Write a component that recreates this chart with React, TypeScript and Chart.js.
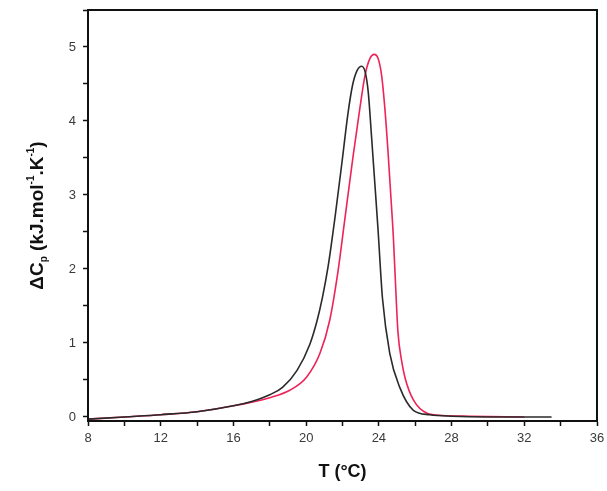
import React, { useEffect, useRef } from "react";
import { Chart, registerables } from "chart.js";

Chart.register(...registerables);

// ---- data ----
const blackT = [8.0, 10.0, 12.0, 14.0, 16.0, 17.0, 18.0, 18.7, 19.5, 20.2, 20.6, 20.9, 21.2, 21.6, 22.0, 22.3, 22.55, 22.8, 23.05, 23.25, 23.42, 23.6, 23.8, 23.95, 24.2, 24.6, 25.15, 25.9, 26.8, 28.0, 30.0, 32.0, 33.5];
const blackV = [-0.03, 0.0, 0.03, 0.07, 0.15, 0.21, 0.3, 0.4, 0.63, 0.98, 1.3, 1.62, 2.02, 2.72, 3.5, 4.1, 4.48, 4.68, 4.74, 4.66, 4.38, 3.78, 3.08, 2.55, 1.6, 0.86, 0.4, 0.09, 0.03, 0.01, 0.0, 0.0, 0.0];

const redT = [8.0, 10.0, 12.0, 14.0, 16.0, 17.0, 18.0, 19.1, 20.03, 20.76, 21.3, 21.76, 22.1, 22.57, 22.96, 23.24, 23.5, 23.75, 23.95, 24.15, 24.32, 24.5, 24.65, 24.8, 24.92, 25.05, 25.25, 25.45, 25.9, 26.65, 27.5, 29.0, 32.0];
const redV = [-0.03, 0.0, 0.03, 0.07, 0.15, 0.2, 0.26, 0.36, 0.54, 0.86, 1.31, 1.98, 2.62, 3.5, 4.18, 4.62, 4.84, 4.9, 4.85, 4.62, 4.2, 3.6, 3.02, 2.42, 1.78, 1.15, 0.76, 0.52, 0.23, 0.05, 0.02, 0.01, 0.0];

const xTickValues = [8, 10, 12, 14, 16, 18, 20, 22, 24, 26, 28, 30, 32, 34, 36];
const xLabelValues = [8, 12, 16, 20, 24, 28, 32, 36];
const yTickValues = [0, 0.5, 1, 1.5, 2, 2.5, 3, 3.5, 4, 4.5, 5, 5.5];
const yLabelValues = [0, 1, 2, 3, 4, 5];

const xTitle = "T (°C)";
const yTitleParts: [string, "n" | "sub" | "sup"][] = [
  ["ΔC", "n"],
  ["p", "sub"],
  [" (kJ.mol", "n"],
  ["-1", "sup"],
  [".K", "n"],
  ["-1", "sup"],
  [")", "n"],
];

const FONT = "'Liberation Sans', Arial, sans-serif";

const framePlugin = {
  id: "frameAndTitles",
  afterDraw(chart: any) {
    const { ctx, chartArea } = chart;
    ctx.save();
    // frame
    ctx.strokeStyle = "#111";
    ctx.lineWidth = 2;
    ctx.strokeRect(chartArea.left, chartArea.top, chartArea.right - chartArea.left, chartArea.bottom - chartArea.top);

    // x title
    ctx.fillStyle = "#111";
    ctx.font = `bold 18px ${FONT}`;
    ctx.textAlign = "center";
    ctx.textBaseline = "middle";
    ctx.fillText(xTitle, (chartArea.left + chartArea.right) / 2, 472);

    // y title (rich text)
    const big = `bold 19px ${FONT}`;
    const small = `bold 10px ${FONT}`;
    let total = 0;
    const widths: number[] = [];
    for (const [t, k] of yTitleParts) {
      ctx.font = k === "n" ? big : small;
      const w = ctx.measureText(t).width;
      widths.push(w);
      total += w;
    }
    ctx.translate(38, (chartArea.top + chartArea.bottom) / 2);
    ctx.rotate(-Math.PI / 2);
    ctx.textAlign = "left";
    ctx.textBaseline = "middle";
    let x = -total / 2;
    yTitleParts.forEach(([t, k], i) => {
      ctx.font = k === "n" ? big : small;
      const dy = k === "sub" ? 6 : k === "sup" ? -7 : 0;
      ctx.fillText(t, x, dy);
      x += widths[i];
    });
    ctx.restore();
  },
};

export default function App() {
  const ref = useRef<HTMLCanvasElement | null>(null);
  useEffect(() => {
    if (!ref.current) return;
    const chart = new Chart(ref.current, {
      type: "line",
      data: {
        datasets: [
          {
            label: "black",
            data: blackT.map((t, i) => ({ x: t, y: blackV[i] })),
            borderColor: "#2a2a2a",
            borderWidth: 1.6,
            pointRadius: 0,
            cubicInterpolationMode: "monotone",
            fill: false,
          },
          {
            label: "red",
            data: redT.map((t, i) => ({ x: t, y: redV[i] })),
            borderColor: "#ee2358",
            borderWidth: 1.6,
            pointRadius: 0,
            cubicInterpolationMode: "monotone",
            fill: false,
          },
        ],
      },
      options: {
        animation: false,
        responsive: true,
        maintainAspectRatio: false,
        layout: { padding: { top: 10, right: 10, left: 0, bottom: 0 } },
        plugins: { legend: { display: false }, tooltip: { enabled: false } },
        scales: {
          x: {
            type: "linear",
            min: 8,
            max: 36,
            afterFit: (s: any) => {
              s.height = 70;
              s.paddingLeft = 0;
              s.paddingRight = 0;
            },
            afterBuildTicks: (s: any) => {
              s.ticks = xTickValues.map((v) => ({ value: v }));
            },
            ticks: {
              autoSkip: false,
              maxRotation: 0,
              padding: 5,
              color: "#3a3a3a",
              font: { family: FONT, size: 13 },
              callback: (v: any) => (xLabelValues.includes(Number(v)) ? String(v) : ""),
            },
            grid: {
              drawOnChartArea: false,
              drawTicks: true,
              tickLength: 5,
              tickColor: "#111",
              tickWidth: 1.5,
            },
            border: { display: true, color: "#111", width: 2 },
          },
          y: {
            type: "linear",
            min: -0.055,
            max: 5.5,
            afterFit: (s: any) => {
              s.width = 88;
              s.paddingTop = 0;
              s.paddingBottom = 0;
            },
            afterBuildTicks: (s: any) => {
              s.ticks = yTickValues.map((v) => ({ value: v }));
            },
            ticks: {
              autoSkip: false,
              padding: 7,
              color: "#3a3a3a",
              font: { family: FONT, size: 13 },
              callback: (v: any) => (yLabelValues.includes(Number(v)) ? String(v) : ""),
            },
            grid: {
              drawOnChartArea: false,
              drawTicks: true,
              tickLength: 5,
              tickColor: "#111",
              tickWidth: 1.5,
            },
            border: { display: true, color: "#111", width: 2 },
          },
        },
      },
      plugins: [framePlugin],
    } as any);
    return () => chart.destroy();
  }, []);

  return (
    <div style={{ position: "fixed", left: 0, top: 0, width: 607, height: 491, background: "#fff" }}>
      <canvas ref={ref} />
    </div>
  );
}
